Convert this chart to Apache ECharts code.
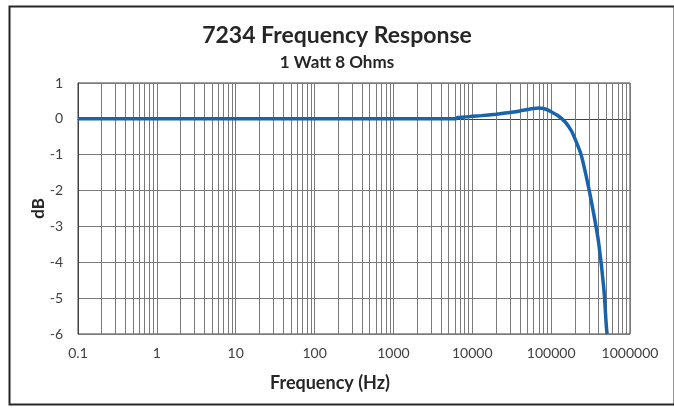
<!DOCTYPE html>
<html>
<head>
<meta charset="utf-8">
<script src="https://cdn.jsdelivr.net/npm/echarts@6/dist/echarts.min.js"></script>
<style>
html,body{margin:0;padding:0;background:#fff;}
#c{width:674px;height:408px;}
</style>
</head>
<body>
<div id="c"></div>
<script>
// ---- data ----
const titleText = '7234 Frequency Response';
const subtitleText = '1 Watt 8 Ohms';
const xAxisName = 'Frequency (Hz)';
const yAxisName = 'dB';
const xTickLabels = ['0.1','1','10','100','1000','10000','100000','1000000'];
const yTickLabels = ['-6','-5','-4','-3','-2','-1','0','1'];
const freqHz = [0.1, 1, 10, 100, 1000, 5000, 6200, 6500, 8000, 10000, 13000, 20000, 30000, 40000, 50000, 60000, 70000, 80000, 90000, 100000, 120000, 150000, 180000, 200000, 240000, 290000, 350000, 400000, 466000, 500000, 512000];
const responseDb = [0, 0, 0, 0, 0, 0, 0, 0.04, 0.05, 0.07, 0.09, 0.13, 0.18, 0.22, 0.26, 0.29, 0.30, 0.29, 0.25, 0.20, 0.10, -0.08, -0.33, -0.55, -1.0, -1.78, -2.7, -3.45, -4.74, -5.75, -6.0];
const minorMultipliers = [2,3,4,5,6,7,8,9];
const decadeStarts = [0.1, 1, 10, 100, 1000, 10000, 100000];

// ---- build ----
const minorLines = [];
decadeStarts.forEach(d => minorMultipliers.forEach(m => minorLines.push({xAxis: +(d*m).toPrecision(6)})));

const font = 'Lato, "Liberation Sans", sans-serif';
const chart = echarts.init(document.getElementById('c'));
chart.setOption({
  animation: false,
  backgroundColor: '#ffffff',
  graphic: [{
    type: 'rect', left: 7, top: 4,
    shape: {width: 665, height: 398},
    style: {fill: 'none', stroke: '#262626', lineWidth: 2}
  }],
  title: {
    text: titleText,
    subtext: subtitleText,
    left: 'center',
    top: 19,
    itemGap: 7,
    textStyle: {fontFamily: font, fontSize: 23, fontWeight: 'bold', color: '#262626'},
    subtextStyle: {fontFamily: font, fontSize: 17, fontWeight: 'bold', color: '#262626'}
  },
  grid: {left: 78, right: 44, top: 83, bottom: 74, show: true, borderColor: '#404040', borderWidth: 1},
  xAxis: {
    type: 'log', logBase: 10, min: 0.1, max: 1000000,
    name: xAxisName, nameLocation: 'middle', nameGap: 40,
    nameTextStyle: {fontFamily: font, fontSize: 18, fontWeight: 'bold', color: '#262626', padding: [0, 48, 0, 0]},
    axisLine: {show: true, lineStyle: {color: '#404040'}},
    axisTick: {show: false},
    axisLabel: {
      margin: 12, fontFamily: font, fontSize: 14, color: '#404040',
      formatter: v => xTickLabels[Math.round(Math.log10(v)) + 1]
    },
    splitLine: {show: true, lineStyle: {color: '#7a7a7a', width: 1}}
  },
  yAxis: {
    type: 'value', min: -6, max: 1, interval: 1,
    name: yAxisName, nameLocation: 'middle', nameGap: 31, nameRotate: 90,
    nameMoveOverlap: false,
    nameTextStyle: {fontFamily: font, fontSize: 17, fontWeight: 'bold', color: '#262626'},
    axisLine: {show: true, lineStyle: {color: '#404040'}},
    axisTick: {show: false},
    axisLabel: {
      margin: 15, fontFamily: font, fontSize: 14, color: '#404040',
      formatter: v => yTickLabels[Math.round(v) + 6]
    },
    splitLine: {show: true, lineStyle: {color: '#7a7a7a', width: 1}}
  },
  series: [{
    type: 'line',
    data: freqHz.map((f, i) => [f, responseDb[i]]),
    showSymbol: false,
    smooth: 0.2,
    lineStyle: {color: '#1763ad', width: 3.5},
    itemStyle: {color: '#1763ad'},
    z: 5,
    markLine: {
      silent: true, symbol: 'none', label: {show: false},
      lineStyle: {color: '#7a7a7a', width: 1, type: 'solid'},
      data: minorLines,
      z: 1
    }
  }]
});
</script>
</body>
</html>
